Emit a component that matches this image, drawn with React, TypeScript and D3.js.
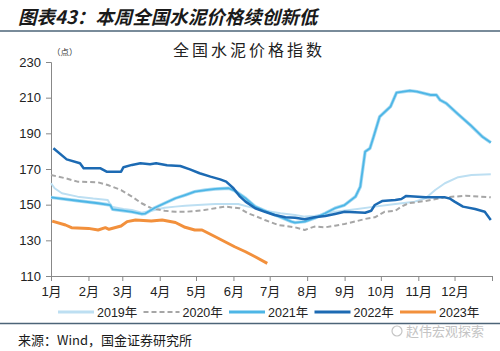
import React, { useEffect, useRef } from "react";
import * as d3 from "d3";

// day-of-year (0 = 1月1日), index value
const y2019: [number, number][] = [
  [0, 162], [3, 159.2], [9, 156.4], [22, 154.5], [35, 153.4], [47, 152.6], [50, 148.9],
  [60, 147.6], [67, 147], [75, 145.5], [86, 147], [94, 148.3], [103, 148.9], [111, 149.4],
  [125, 150], [136, 150.4], [155, 150.4], [163, 148.9], [177, 146.6], [190, 145.2],
  [202, 144.2], [210, 143.3], [218, 143.6], [227, 144.8], [235, 146], [252, 147.4],
  [268, 148.9], [285, 150.4], [301, 151.7], [310, 153.6], [318, 158.2], [326, 162],
  [337, 165.4], [348, 166.6], [364, 167],
];

const y2020: [number, number][] = [
  [0, 166.6], [12, 164.8], [22, 162.9], [39, 162.5], [47, 161], [58, 158.2], [67, 154.5],
  [75, 150.8], [83, 148], [94, 146.6], [103, 146], [111, 146], [119, 146.4], [127, 147],
  [136, 148], [144, 148.9], [156, 148], [163, 145.2], [170, 143.4], [177, 141.4],
  [188, 138.6], [202, 137.3], [210, 135.8], [218, 137.7], [227, 137.3], [235, 138.2],
  [243, 139.2], [252, 140.6], [260, 142], [268, 142.9], [276, 146], [285, 146.6],
  [290, 148.9], [296, 150.8], [310, 152.1], [326, 154.1], [343, 155], [364, 154.1],
];

const y2021: [number, number][] = [
  [0, 154.1], [22, 152.2], [39, 150.8], [49, 149.8], [51, 147.4], [60, 146.6], [67, 146],
  [75, 144.8], [78, 145], [86, 148.3], [94, 150.8], [103, 153.6], [111, 155.4],
  [119, 157.3], [128, 158.2], [136, 158.8], [147, 159.2], [152, 157.8], [161, 153.6],
  [169, 148.9], [177, 146.6], [188, 143.6], [199, 140.5], [202, 139.9], [210, 140.5],
  [218, 142.4], [227, 145.2], [235, 148], [243, 149.8], [252, 154.5], [256, 160.1],
  [260, 179.7], [264, 181.6], [267, 188.1], [272, 199.3], [281, 205], [286, 212.8],
  [297, 213.9], [303, 213.4], [314, 211.5], [319, 211.5], [322, 208.7], [327, 206.9],
  [336, 201.3], [347, 194.7], [357, 188.1], [364, 184.8],
];

const y2022: [number, number][] = [
  [2, 181.6], [13, 175.4], [24, 173.2], [27, 170.4], [41, 170.4], [46, 168.5],
  [58, 168.5], [60, 171], [67, 172.3], [74, 173.2], [82, 172.7], [87, 173.2], [96, 172.1],
  [107, 171.7], [115, 169.8], [123, 167.6], [132, 165.7], [140, 164.2], [145, 162.9],
  [151, 159.2], [156, 154.8], [161, 151.7], [169, 148], [177, 146], [185, 144.2],
  [194, 142.9], [202, 142.7], [210, 141.8], [218, 142.9], [227, 143.6], [235, 144.8],
  [243, 146], [260, 145.5], [265, 146.6], [268, 149.8], [274, 152], [285, 152.6],
  [290, 153.2], [294, 154.9], [310, 154.1], [326, 154.1], [330, 153.5], [334, 151.7],
  [341, 148.9], [351, 147.6], [359, 146], [364, 141.4],
];

const y2023: [number, number][] = [
  [1, 140.8], [12, 138.6], [17, 137.1], [31, 136.7], [39, 135.8], [45, 137.1], [48, 136.2],
  [58, 138], [63, 140.5], [70, 141.4], [83, 140.8], [92, 141.4], [103, 140], [111, 137.3],
  [119, 135.8], [125, 135.8], [136, 132], [144, 129.2], [152, 126.4], [161, 123.6],
  [169, 120.8], [179, 117.1],
];

const monthStarts = [0, 31, 59, 90, 120, 151, 181, 212, 243, 273, 304, 334, 365];
const monthLabels = ["1月", "2月", "3月", "4月", "5月", "6月", "7月", "8月", "9月", "10月", "11月", "12月"];
const yTicks = [110, 130, 150, 170, 190, 210, 230];
const seriesNames = ["2019年", "2020年", "2021年", "2022年", "2023年"];

const series = [
  { name: seriesNames[0], data: y2019, color: "#bddff2", width: 2, dash: "", halo: "" },
  { name: seriesNames[1], data: y2020, color: "#a6a6a6", width: 2, dash: "5,3", halo: "" },
  { name: seriesNames[2], data: y2021, color: "#4db6e6", width: 1.8, dash: "", halo: "#a9daf2" },
  { name: seriesNames[3], data: y2022, color: "#1c6ab3", width: 2.5, dash: "", halo: "" },
  { name: seriesNames[4], data: y2023, color: "#f2903c", width: 3, dash: "", halo: "" },
];

export default function App() {
  const ref = useRef<SVGSVGElement>(null);

  useEffect(() => {
    const svg = d3.select(ref.current);
    svg.selectAll("*").remove();

    const font = "Liberation Sans, Arial, 'Noto Sans CJK SC', sans-serif";
    const cjk = "'Noto Sans CJK SC', sans-serif";

    const x = d3.scaleLinear().domain([0, 365]).range([51, 492]);
    const y = d3.scaleLinear().domain([110, 230]).range([276, 62]);

    // header
    svg.append("text")
      .attr("x", 18).attr("y", 24)
      .attr("font-family", cjk).attr("font-size", 18.5).attr("font-weight", "bold")
      .attr("font-style", "italic").attr("fill", "#1a1a1a")
      .text("图表43：本周全国水泥价格续创新低");
    svg.append("line").attr("x1", 0).attr("x2", 500).attr("y1", 31).attr("y2", 31)
      .attr("stroke", "#4d6478").attr("stroke-width", 1.5);

    svg.append("text")
      .attr("x", 249).attr("y", 56).attr("text-anchor", "middle")
      .attr("font-family", cjk).attr("font-size", 16).attr("letter-spacing", 3)
      .attr("fill", "#222").text("全国水泥价格指数");
    svg.append("text")
      .attr("x", 52).attr("y", 55)
      .attr("font-family", cjk).attr("font-size", 8.5).attr("fill", "#333")
      .text("（点）");

    // y axis
    const ya = svg.append("g").attr("transform", "translate(51,0)")
      .call(d3.axisLeft(y).tickValues(yTicks).tickSize(5).tickPadding(5).tickFormat(d3.format("d")));
    ya.select(".domain").attr("stroke", "#888");
    ya.selectAll(".tick line").attr("stroke", "#888");
    ya.selectAll("text").attr("font-family", font).attr("font-size", 13).attr("fill", "#222");

    // x axis
    const xa = svg.append("g").attr("transform", "translate(0,276)")
      .call(d3.axisBottom(x).tickValues(monthStarts).tickSize(5).tickPadding(6)
        .tickFormat((d, i) => monthLabels[i] ?? ""));
    xa.select(".domain").attr("stroke", "#888");
    xa.selectAll(".tick line").attr("stroke", "#888");
    xa.selectAll("text").attr("font-family", font).attr("font-size", 13).attr("fill", "#222");

    const line = d3.line<[number, number]>()
      .x((d) => x(d[0]))
      .y((d) => y(d[1]))
      .curve(d3.curveLinear);

    series.forEach((s) => {
      if (s.halo) {
        svg.append("path")
          .datum(s.data)
          .attr("d", line)
          .attr("fill", "none")
          .attr("stroke", s.halo)
          .attr("stroke-width", s.width + 1.6)
          .attr("stroke-linejoin", "round");
      }
      svg.append("path")
        .datum(s.data)
        .attr("d", line)
        .attr("fill", "none")
        .attr("stroke", s.color)
        .attr("stroke-width", s.width)
        .attr("stroke-dasharray", s.dash)
        .attr("stroke-linejoin", "round");
    });

    // legend
    const lg = svg.append("g");
    series.forEach((s, i) => {
      const x0 = 58 + i * 85.5;
      lg.append("line").attr("x1", x0).attr("x2", x0 + 36).attr("y1", 312).attr("y2", 312)
        .attr("stroke", s.color).attr("stroke-width", s.dash ? 2 : 3)
        .attr("stroke-dasharray", s.dash);
      lg.append("text").attr("x", x0 + 39).attr("y", 316.5)
        .attr("font-family", font).attr("font-size", 12.5).attr("fill", "#222")
        .text(s.name);
    });

    // footer
    svg.append("line").attr("x1", 0).attr("x2", 500).attr("y1", 323.5).attr("y2", 323.5)
      .attr("stroke", "#4d6478").attr("stroke-width", 1.5);
    svg.append("text").attr("x", 18).attr("y", 345)
      .attr("font-family", cjk).attr("font-size", 13).attr("fill", "#1a1a1a")
      .text("来源：Wind，国金证券研究所");
    svg.append("circle").attr("cx", 397).attr("cy", 331).attr("r", 5)
      .attr("fill", "none").attr("stroke", "#c4c4c4").attr("stroke-width", 1.2);
    svg.append("text").attr("x", 406).attr("y", 336)
      .attr("font-family", cjk).attr("font-size", 13).attr("fill", "#c4c4c4")
      .text("赵伟宏观探索");
  }, []);

  return (
    <svg
      ref={ref}
      width={500}
      height={351}
      style={{ position: "absolute", left: 0, top: 0, background: "#fff" }}
    />
  );
}
